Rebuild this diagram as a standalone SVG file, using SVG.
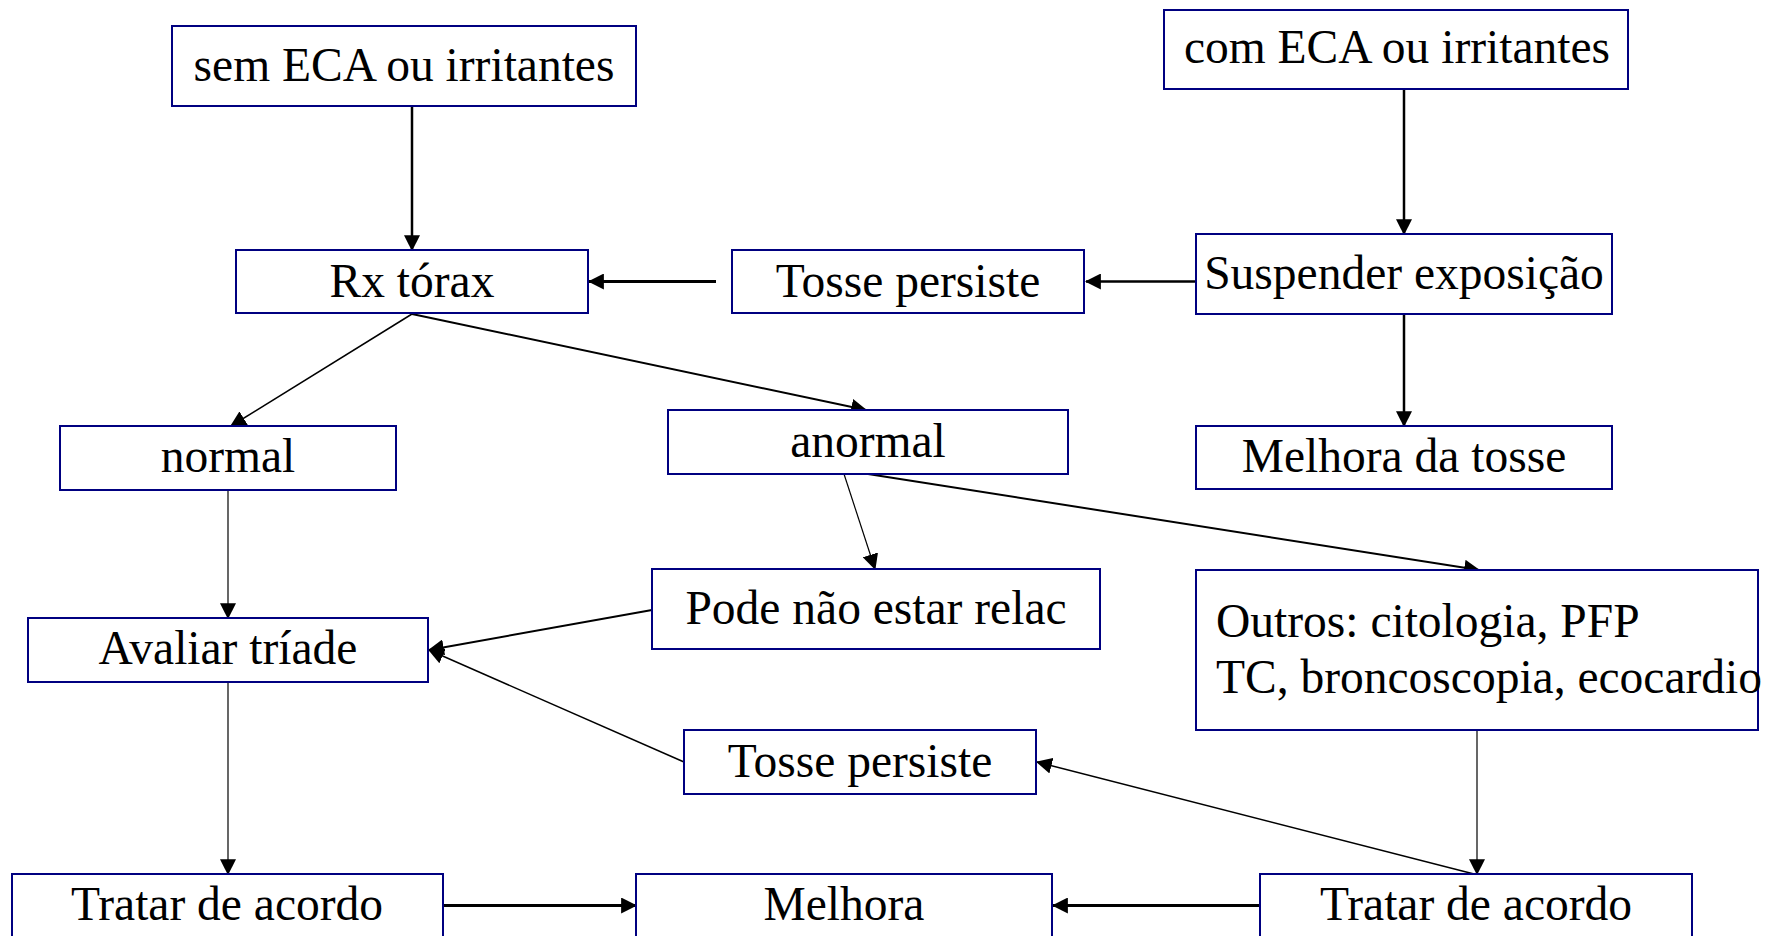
<svg xmlns="http://www.w3.org/2000/svg" width="1777" height="936" viewBox="0 0 1777 936">
<defs>
<style>
.box{fill:#fff;stroke:#000080;stroke-width:2}
.t{font-family:"Liberation Serif","Times New Roman",serif;font-size:47.5px;fill:#000;text-anchor:middle}
.ts{font-family:"Liberation Serif","Times New Roman",serif;font-size:47.5px;fill:#000}
.c{stroke:#000;fill:none;marker-end:url(#ah)}
</style>
<marker id="ah" markerUnits="userSpaceOnUse" markerWidth="16" markerHeight="16" viewBox="0 0 14 14" refX="13" refY="7" orient="auto">
<path d="M0,0 L14,7 L0,14 z" fill="#000"/>
</marker>
</defs>
<rect width="1777" height="936" fill="#fff"/>
<g id="connectors">
<line class="c" x1="412" y1="106" x2="412" y2="250" stroke-width="2.5"/>
<line class="c" x1="1404" y1="89" x2="1404" y2="234" stroke-width="2.5"/>
<line class="c" x1="1196" y1="281.5" x2="1086" y2="281.5" stroke-width="2.5"/>
<line class="c" x1="716" y1="281.5" x2="589" y2="281.5" stroke-width="3"/>
<line class="c" x1="1404" y1="314" x2="1404" y2="426" stroke-width="2.5"/>
<line class="c" x1="412" y1="314" x2="231" y2="426" stroke-width="1.5"/>
<line class="c" x1="412" y1="314" x2="866" y2="410" stroke-width="2"/>
<line class="c" x1="844" y1="474" x2="875" y2="569" stroke-width="1.2"/>
<line class="c" x1="868" y1="474" x2="1479" y2="570" stroke-width="2"/>
<line class="c" x1="228" y1="490" x2="228" y2="618" stroke-width="1.2"/>
<line class="c" x1="652" y1="610" x2="429" y2="650" stroke-width="2"/>
<line class="c" x1="684" y1="762" x2="429" y2="650" stroke-width="1.5"/>
<line class="c" x1="228" y1="682" x2="228" y2="874" stroke-width="1.2"/>
<line class="c" x1="1477" y1="730" x2="1477" y2="874" stroke-width="1.2"/>
<line class="c" x1="1474" y1="874" x2="1037" y2="762" stroke-width="1.5"/>
<line class="c" x1="443" y1="905.5" x2="636" y2="905.5" stroke-width="3"/>
<line class="c" x1="1260" y1="905.5" x2="1053" y2="905.5" stroke-width="3"/>
</g>
<g id="sem-eca"><rect class="box" x="172" y="26" width="464" height="80"/><text class="t" x="404" y="81">sem ECA ou irritantes</text></g>
<g id="com-eca"><rect class="box" x="1164" y="10" width="464" height="79"/><text class="t" x="1397" y="63">com ECA ou irritantes</text></g>
<g id="rx-torax"><rect class="box" x="236" y="250" width="352" height="63"/><text class="t" x="412" y="297">Rx tórax</text></g>
<g id="tosse-persiste-1"><rect class="box" x="732" y="250" width="352" height="63"/><text class="t" x="908" y="297">Tosse persiste</text></g>
<g id="suspender"><rect class="box" x="1196" y="234" width="416" height="80"/><text class="t" x="1404" y="289">Suspender exposição</text></g>
<g id="normal"><rect class="box" x="60" y="426" width="336" height="64"/><text class="t" x="228" y="472">normal</text></g>
<g id="anormal"><rect class="box" x="668" y="410" width="400" height="64"/><text class="t" x="868" y="457">anormal</text></g>
<g id="melhora-tosse"><rect class="box" x="1196" y="426" width="416" height="63"/><text class="t" x="1404" y="472">Melhora da tosse</text></g>
<g id="pode-nao"><rect class="box" x="652" y="569" width="448" height="80"/><text class="t" x="876" y="624">Pode não estar relac</text></g>
<g id="outros"><rect class="box" x="1196" y="570" width="562" height="160"/><text class="ts" x="1216" y="637">Outros: citologia, PFP</text><text class="ts" x="1216" y="693">TC, broncoscopia, ecocardio</text></g>
<g id="avaliar"><rect class="box" x="28" y="618" width="400" height="64"/><text class="t" x="228" y="664">Avaliar tríade</text></g>
<g id="tosse-persiste-2"><rect class="box" x="684" y="730" width="352" height="64"/><text class="t" x="860" y="777">Tosse persiste</text></g>
<g id="tratar-1"><rect class="box" x="12" y="874" width="431" height="90"/><text class="t" x="227" y="920">Tratar de acordo</text></g>
<g id="melhora"><rect class="box" x="636" y="874" width="416" height="90"/><text class="t" x="844" y="920">Melhora</text></g>
<g id="tratar-2"><rect class="box" x="1260" y="874" width="432" height="90"/><text class="t" x="1476" y="920">Tratar de acordo</text></g>
</svg>
